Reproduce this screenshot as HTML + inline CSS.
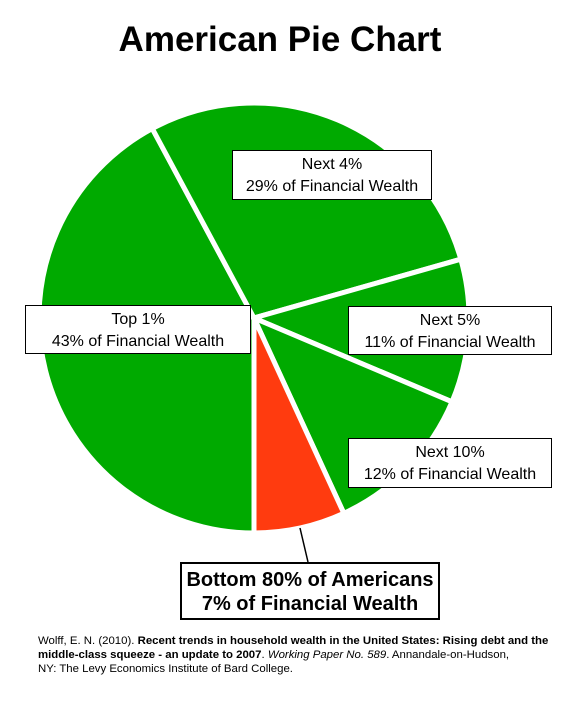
<!DOCTYPE html>
<html><head><meta charset="utf-8"><style>
body{margin:0;width:580px;height:708px;background:#fff;font-family:"Liberation Sans",Arial,sans-serif;position:relative;overflow:hidden}
.t{position:absolute;left:0;width:560px;top:20px;text-align:center;font-size:35px;font-weight:bold;color:#000}
.lb{position:absolute;background:#fff;border:1px solid #000;text-align:center;font-size:16px;line-height:22px;color:#000;box-sizing:border-box;padding-top:3px}
.foot{position:absolute;left:38px;top:634px;width:515px;font-size:11.4px;line-height:14px;color:#000}
</style></head><body>
<div class="t">American Pie Chart</div>
<svg id="pie" width="580" height="708" style="position:absolute;left:0;top:0"></svg>
<div class="lb" style="left:232px;top:150px;width:200px;height:50px">Next 4%<br>29% of Financial Wealth</div>
<div class="lb" style="left:25px;top:305px;width:226px;height:49px">Top 1%<br>43% of Financial Wealth</div>
<div class="lb" style="left:348px;top:306px;width:204px;height:49px">Next 5%<br>11% of Financial Wealth</div>
<div class="lb" style="left:348px;top:438px;width:204px;height:50px">Next 10%<br>12% of Financial Wealth</div>
<div class="lb" style="left:180px;top:562px;width:260px;height:58px;border-width:2px;font-size:20px;font-weight:bold;line-height:24px;padding-top:4px">Bottom 80% of Americans<br>7% of Financial Wealth</div>
<div class="foot">Wolff, E. N. (2010). <b>Recent trends in household wealth in the United States: Rising debt and the middle-class squeeze - an update to 2007</b>. <i>Working Paper No. 589</i>. Annandale-on-Hudson,<br>NY: The Levy Economics Institute of Bard College.</div>
<script>
const categories=["Top 1%","Next 4%","Next 5%","Next 10%","Bottom 80%"];
const values=[43,29,11,12,7];
const colors=["#00aa00","#00aa00","#00aa00","#00aa00","#ff3b0f"];
const svg=document.getElementById('pie');
const cx=254,cy=318,r=215;
const total=values.reduce((a,b)=>a+b,0);
let a=180;
function pt(deg){const t=deg*Math.PI/180;return [cx+r*Math.sin(t),cy-r*Math.cos(t)];}
values.forEach((v,i)=>{
 const sweep=v/total*360;const [x1,y1]=pt(a);const [x2,y2]=pt(a+sweep);
 const p=document.createElementNS('http://www.w3.org/2000/svg','path');
 p.setAttribute('d',`M${cx},${cy}L${x1},${y1}A${r},${r} 0 ${sweep>180?1:0} 1 ${x2},${y2}Z`);
 p.setAttribute('fill',colors[i]);p.setAttribute('stroke','#fff');p.setAttribute('stroke-width','5');
 
 
 svg.appendChild(p);a+=sweep;
});
const ln=document.createElementNS('http://www.w3.org/2000/svg','line');
ln.setAttribute('x1',300);ln.setAttribute('y1',528);ln.setAttribute('x2',308);ln.setAttribute('y2',562);
ln.setAttribute('stroke','#000');ln.setAttribute('stroke-width','1.5');


svg.appendChild(ln);
</script>
</body></html>
